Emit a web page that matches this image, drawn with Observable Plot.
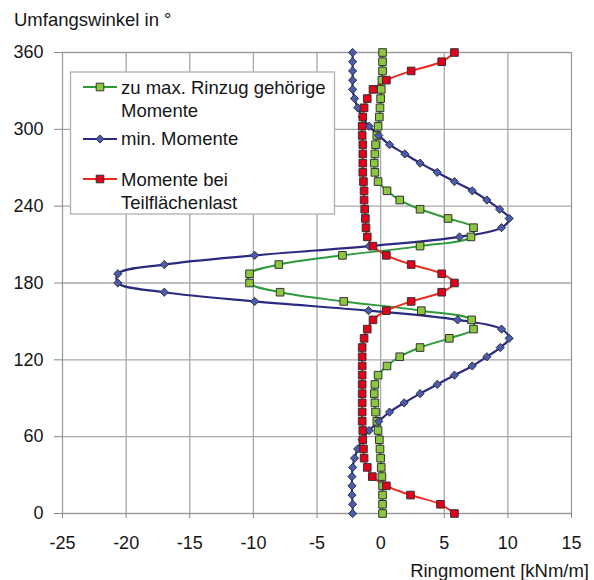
<!DOCTYPE html>
<html><head><meta charset="utf-8">
<script src="https://cdn.jsdelivr.net/npm/d3@7"></script>
<script src="https://cdn.jsdelivr.net/npm/@observablehq/plot@0.6"></script>
<style>
html,body{margin:0;padding:0;background:#fff;}
#chart{position:relative;width:594px;height:580px;}
</style></head><body><div id="chart"></div>
<script>
// Umfangswinkel (degrees)
const angles = [0, 7.2, 14.4, 21.6, 28.8, 36, 43.2, 50.4, 57.6, 64.8,
  72, 79.2, 86.4, 93.6, 100.8, 108, 115.2, 122.4, 129.6, 136.8,
  144, 151.2, 158.4, 165.6, 172.8, 180, 187.2, 194.4, 201.6, 208.8,
  216, 223.2, 230.4, 237.6, 244.8, 252, 259.2, 266.4, 273.6, 280.8,
  288, 295.2, 302.4, 309.6, 316.8, 324, 331.2, 338.4, 345.6, 352.8,
  360];
// zu max. Rinzug gehörige Momente
const greenMoments = [0.15, 0.15, 0.15, 0.15, 0.1, 0.05, 0.0, -0.05, -0.1, -0.2,
  -0.3, -0.4, -0.45, -0.5, -0.45, -0.2, 0.5, 1.5, 3.1, 5.4,
  7.3, 7.15, 3.2, -2.9, -7.9, -10.3, -10.3, -8.0, -3.0, 3.1,
  7.1, 7.3, 5.3, 3.1, 1.5, 0.5, -0.2, -0.45, -0.5, -0.45,
  -0.4, -0.3, -0.2, -0.1, -0.05, 0.0, 0.05, 0.1, 0.15, 0.15,
  0.15];
// min. Momente
const blueMoments = [-2.2, -2.2, -2.25, -2.25, -2.25, -2.2, -2.05, -1.8, -1.45, -0.9,
  -0.15, 0.7, 1.85, 3.1, 4.45, 5.8, 7.2, 8.35, 9.4, 10.1,
  9.5, 6.05, -0.95, -9.9, -17.0, -20.65, -20.65, -17.0, -9.9, -0.9,
  6.2, 9.5, 10.1, 9.35, 8.35, 7.2, 5.8, 4.45, 3.1, 1.9,
  0.7, -0.15, -0.9, -1.45, -1.8, -2.05, -2.2, -2.2, -2.2, -2.2,
  -2.2];
// Momente bei Teilflächenlast
const redMoments = [5.8, 4.7, 2.35, 0.45, -0.65, -1.05, -1.3, -1.35, -1.4, -1.4,
  -1.45, -1.45, -1.45, -1.45, -1.45, -1.45, -1.45, -1.45, -1.45, -1.3,
  -1.05, -0.6, 0.45, 2.4, 4.8, 5.8, 4.8, 2.4, 0.45, -0.6,
  -1.05, -1.15, -1.2, -1.25, -1.3, -1.3, -1.35, -1.4, -1.4, -1.4,
  -1.4, -1.45, -1.45, -1.4, -1.3, -1.05, -0.6, 0.45, 2.4, 4.8,
  5.8];

const xTicks = [-25, -20, -15, -10, -5, 0, 5, 10, 15];
const yTicks = [0, 60, 120, 180, 240, 300, 360];
const yTitle = "Umfangswinkel in °";
const xTitle = "Ringmoment [kNm/m]";
const legendLines = [
  ["zu max. Rinzug gehörige", "Momente"],
  ["min. Momente"],
  ["Momente bei", "Teilflächenlast"]
];

const toRows = vals => angles.map((a, i) => ({angle: a, m: vals[i]}));
const green = toRows(greenMoments);
const blue = toRows(blueMoments);
const red = toRows(redMoments);

const FONT = '"Liberation Sans", Arial, Helvetica, sans-serif';
const C = {
  gLine: "#2e9a3c", gFill: "#8dc63f",
  bLine: "#2c2a80", bFill: "#4a5cb0",
  rLine: "#f0281e", rFill: "#e3001b",
  mk: "#333333"
};
const SQ_R = 4.3, DI_R = 3.7;

const plot = Plot.plot({
  width: 594, height: 580,
  marginLeft: 62, marginRight: 23, marginTop: 52, marginBottom: 67,
  style: {fontFamily: FONT, fontSize: "18px", color: "#161616", background: "#fff", overflow: "visible"},
  x: {domain: [-25, 15], label: null},
  y: {domain: [0, 360], label: null},
  marks: [
    Plot.gridX(xTicks, {stroke: "#a8a8a8", strokeOpacity: 1, strokeWidth: 1.3}),
    Plot.gridY(yTicks, {stroke: "#a8a8a8", strokeOpacity: 1, strokeWidth: 1.3}),
    Plot.frame({stroke: "#999"}),
    Plot.axisX(xTicks, {tickSize: 5, tickPadding: 18, tickFormat: d => String(d), stroke: "#888", label: null}),
    Plot.axisY(yTicks, {tickSize: 8, tickPadding: 11, tickFormat: d => String(d), stroke: "#888", label: null}),
    Plot.line(green, {x: "m", y: "angle", stroke: C.gLine, strokeWidth: 2, curve: "catmull-rom"}),
    Plot.line(blue, {x: "m", y: "angle", stroke: C.bLine, strokeWidth: 2.2, curve: "catmull-rom"}),
    Plot.line(red, {x: "m", y: "angle", stroke: C.rLine, strokeWidth: 2, curve: "catmull-rom"}),
    Plot.dot(green, {x: "m", y: "angle", symbol: "square", r: SQ_R, fill: C.gFill, stroke: C.mk, strokeWidth: 1}),
    Plot.dot(blue, {x: "m", y: "angle", symbol: "diamond2", r: DI_R, fill: C.bFill, stroke: C.mk, strokeWidth: 1}),
    Plot.dot(red, {x: "m", y: "angle", symbol: "square", r: SQ_R, fill: C.rFill, stroke: C.mk, strokeWidth: 1})
  ]
});

document.getElementById("chart").appendChild(plot);

const svg = d3.select(plot);
// axis titles
svg.append("text").attr("x", 14).attr("y", 25.5).attr("text-anchor", "start").attr("font-size", 18.5)
  .attr("fill", "#161616").attr("font-family", FONT).text(yTitle);
svg.append("text").attr("x", 589).attr("y", 577).attr("text-anchor", "end").attr("font-size", 18.5)
  .attr("fill", "#161616").attr("font-family", FONT).text(xTitle);

// legend
const lg = svg.append("g").attr("font-family", FONT).attr("font-size", 18.5).attr("fill", "#161616")
  .attr("text-anchor", "start");
lg.append("rect").attr("x", 70.5).attr("y", 72).attr("width", 264).attr("height", 142)
  .attr("fill", "#fff").attr("stroke", "#b0b0b0").attr("stroke-width", 1.3);
const items = [
  {y: 87, line: C.gLine, fill: C.gFill, sym: d3.symbolSquare, size: Math.PI * SQ_R * SQ_R, text: legendLines[0], base: 93.5},
  {y: 139, line: C.bLine, fill: C.bFill, sym: d3.symbolDiamond2, size: Math.PI * DI_R * DI_R, text: legendLines[1], base: 145},
  {y: 179, line: C.rLine, fill: C.rFill, sym: d3.symbolSquare, size: Math.PI * SQ_R * SQ_R, text: legendLines[2], base: 186}
];
items.forEach(it => {
  lg.append("line").attr("x1", 83).attr("x2", 117).attr("y1", it.y).attr("y2", it.y)
    .attr("stroke", it.line).attr("stroke-width", 2);
  lg.append("path").attr("d", d3.symbol(it.sym, it.size)()).attr("transform", `translate(100,${it.y})`)
    .attr("fill", it.fill).attr("stroke", C.mk).attr("stroke-width", 1);
  it.text.forEach((t, k) => {
    lg.append("text").attr("x", 121).attr("y", it.base + k * 23).attr("text-anchor", "start").text(t);
  });
});
</script></body></html>
